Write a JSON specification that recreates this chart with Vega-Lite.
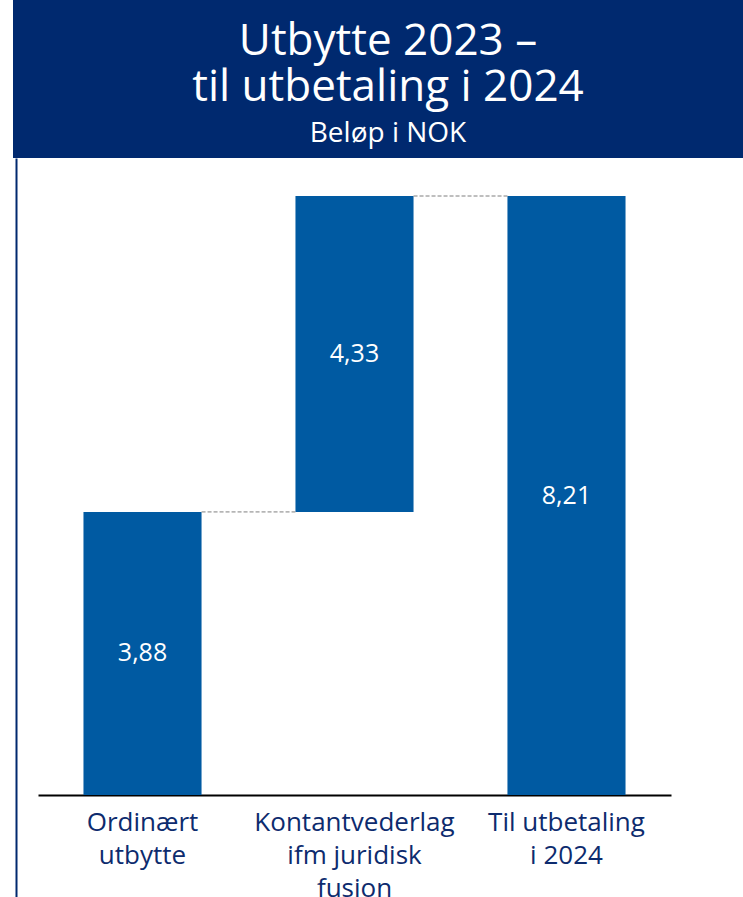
{
  "$schema": "https://vega.github.io/schema/vega-lite/v6.json",
  "padding": {"left": 12, "top": 0, "right": 0, "bottom": 0},
  "spacing": 0,
  "background": "white",
  "config": {
    "view": {"stroke": null},
    "font": "Open Sans",
    "locale": {"number": {"decimal": ",", "thousands": " ", "grouping": [3], "currency": ["", " kr"]}}
  },
  "datasets": {
    "bars": [
      {"cat": "Ordinært|utbytte", "start": 0, "end": 3.88, "value": 3.88},
      {"cat": "Kontantvederlag|ifm juridisk|fusjon", "start": 3.88, "end": 8.21, "value": 4.33},
      {"cat": "Til utbetaling|i 2024", "start": 0, "end": 8.21, "value": 8.21}
    ],
    "links": [
      {"from": "Ordinært|utbytte", "to": "Kontantvederlag|ifm juridisk|fusjon", "level": 3.88},
      {"from": "Kontantvederlag|ifm juridisk|fusjon", "to": "Til utbetaling|i 2024", "level": 8.21}
    ],
    "heading": [
      {"text": "Utbytte 2023 –", "line": 1, "kind": "title"},
      {"text": "til utbetaling i  2024", "line": 2, "kind": "title"},
      {"text": "Beløp i NOK", "line": 3, "kind": "subtitle"}
    ]
  },
  "vconcat": [
    {
      "width": 706,
      "height": 158,
      "view": {"fill": "#00296F", "stroke": null},
      "data": {"name": "heading"},
      "mark": {"type": "text", "color": "white", "baseline": "middle", "align": "center", "dx": -3, "font": "Open Sans"},
      "encoding": {
        "y": {
          "field": "line", "type": "ordinal",
          "scale": {"type": "point", "padding": 0.721, "align": 0.631},
          "axis": {"title": null, "labels": false, "ticks": false, "grid": false, "domainColor": "#00296F", "domainWidth": 26, "offset": 12, "translate": 0}
        },
        "text": {"field": "text"},
        "size": {"field": "kind", "type": "nominal", "scale": {"domain": ["title", "subtitle"], "range": [44, 28]}, "legend": null}
      }
    },
    {
      "width": 633,
      "height": 739,
      "layer": [
        {
          "data": {"name": "bars"},
          "mark": {"type": "bar", "color": "#005AA2"},
          "encoding": {
            "x": {
              "field": "cat", "type": "nominal",
              "scale": {"type": "band", "domain": ["Ordinært|utbytte", "Kontantvederlag|ifm juridisk|fusjon", "Til utbetaling|i 2024"], "paddingInner": 0.443, "paddingOuter": 0.2145},
              "axis": {
                "title": null, "orient": "bottom", "offset": -102, "domainColor": "#000000", "domainWidth": 2,
                "ticks": false, "labelPadding": 14, "labelFontSize": 26, "labelColor": "#0D2B6E", "labelLineHeight": 33,
                "labelAngle": 0, "labelExpr": "split(datum.label, '|')", "labelFont": "Open Sans", "labelLimit": 0, "labelBaseline": "top"
              }
            },
            "y": {
              "field": "start", "type": "quantitative",
              "scale": {"domain": [-1.398, 8.731], "nice": false, "zero": false},
              "axis": {"title": null, "labels": false, "grid": false, "domainColor": "#00296F", "domainWidth": 2, "offset": 22, "tickColor": "transparent", "tickSize": 3, "tickCount": 2}
            },
            "y2": {"field": "end"}
          }
        },
        {
          "data": {"name": "links"},
          "mark": {"type": "rule", "color": "#7F7F7F", "strokeWidth": 1, "strokeDash": [4, 2]},
          "encoding": {
            "x": {"field": "from", "type": "nominal", "bandPosition": 1},
            "x2": {"field": "to", "bandPosition": 0},
            "y": {"field": "level", "type": "quantitative"}
          }
        },
        {
          "data": {"name": "bars"},
          "transform": [{"fold": ["start", "end"], "as": ["edge", "v"]}],
          "mark": {"type": "text", "color": "white", "fontSize": 25, "baseline": "middle", "align": "center", "font": "Open Sans"},
          "encoding": {
            "x": {"field": "cat", "type": "nominal"},
            "y": {"aggregate": "mean", "field": "v", "type": "quantitative"},
            "text": {"field": "value", "type": "quantitative", "format": ".2f"}
          }
        }
      ]
    }
  ]
}
